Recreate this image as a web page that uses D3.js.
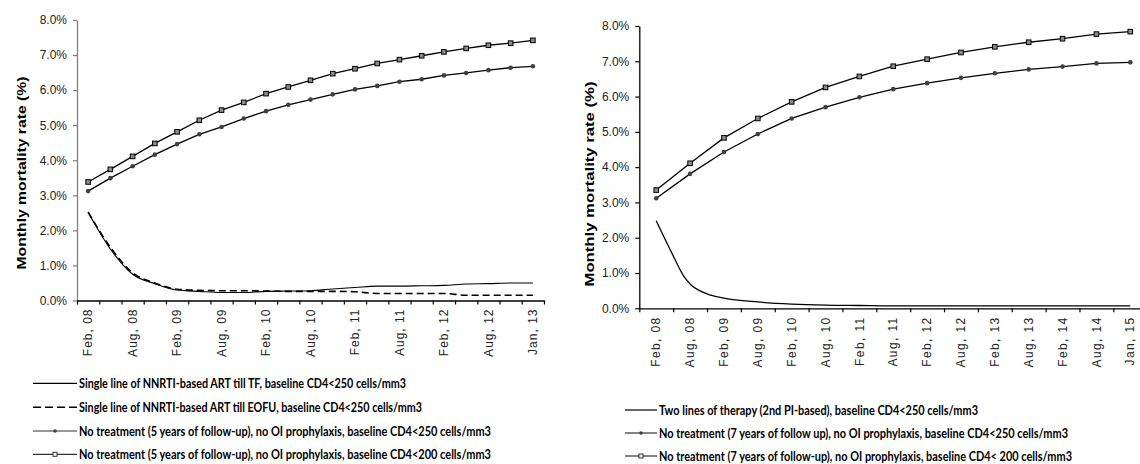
<!DOCTYPE html>
<html><head><meta charset="utf-8">
<script src="https://cdn.jsdelivr.net/npm/d3@7"></script>
<style>body{margin:0;background:#fff}svg{display:block}</style>
</head><body>
<svg id="c" width="1140" height="464"></svg>
<script>
// ---------- DATA ----------
const leftCategories = ["Feb, 08","May, 08","Aug, 08","Nov, 08","Feb, 09","May, 09","Aug, 09","Nov, 09",
  "Feb, 10","May, 10","Aug, 10","Nov, 10","Feb, 11","May, 11","Aug, 11","Nov, 11",
  "Feb, 12","May, 12","Aug, 12","Nov, 12","Jan, 13"];
const leftTickLabels = ["Feb, 08","Aug, 08","Feb, 09","Aug, 09","Feb, 10","Aug, 10","Feb, 11","Aug, 11","Feb, 12","Aug, 12","Jan, 13"];
const leftArtTF   = [2.52,1.47,0.75,0.48,0.30,0.26,0.23,0.23,0.26,0.27,0.28,0.33,0.37,0.41,0.41,0.42,0.43,0.47,0.48,0.50,0.50];
const leftArtEOFU = [2.52,1.52,0.79,0.50,0.32,0.29,0.28,0.28,0.27,0.26,0.26,0.26,0.25,0.20,0.20,0.20,0.20,0.15,0.15,0.15,0.15];
const leftNoTx250 = [3.12,3.49,3.83,4.16,4.46,4.74,4.95,5.19,5.40,5.58,5.73,5.88,6.02,6.12,6.24,6.31,6.42,6.49,6.57,6.64,6.68];
const leftNoTx200 = [3.38,3.74,4.11,4.48,4.81,5.14,5.43,5.65,5.90,6.09,6.28,6.47,6.61,6.76,6.87,6.98,7.09,7.19,7.28,7.34,7.42];
const leftLegend = [
  "Single line of NNRTI-based ART till TF, baseline CD4<250 cells/mm3",
  "Single line of NNRTI-based ART till EOFU, baseline CD4<250 cells/mm3",
  "No treatment (5 years of follow-up), no OI prophylaxis, baseline CD4<250 cells/mm3",
  "No treatment (5 years of follow-up), no OI prophylaxis, baseline CD4<200 cells/mm3"];

const rightCategories = ["Feb, 08","Aug, 08","Feb, 09","Aug, 09","Feb, 10","Aug, 10","Feb, 11","Aug, 11",
  "Feb, 12","Aug, 12","Feb, 13","Aug, 13","Feb, 14","Aug, 14","Jan, 15"];
const rightArtMonths = [0,3,5,6,9,12,18,24,30,36,42,48,54,60,66,72,78,84];
const rightArtTwoLines = [2.48,1.49,0.88,0.69,0.41,0.29,0.18,0.12,0.09,0.08,0.07,0.07,0.07,0.07,0.07,0.07,0.07,0.07];
const rightNoTx250 = [3.12,3.81,4.43,4.94,5.38,5.70,5.98,6.21,6.38,6.53,6.66,6.77,6.85,6.94,6.97];
const rightNoTx200 = [3.35,4.11,4.83,5.38,5.85,6.26,6.57,6.86,7.06,7.25,7.41,7.54,7.64,7.77,7.84];
const rightLegend = [
  "Two lines of therapy (2nd PI-based), baseline CD4<250 cells/mm3",
  "No treatment (7 years of follow up), no OI prophylaxis, baseline CD4<250 cells/mm3",
  "No treatment (7 years of follow-up), no OI prophylaxis, baseline CD4< 200 cells/mm3"];
const yTicks = [0,1,2,3,4,5,6,7,8];
const yTitle = "Monthly mortality rate (%)";

// ---------- DRAW ----------
const svg = d3.select("#c");
const TICKFONT = "'Liberation Sans', Arial, sans-serif";
const LEGFONT = "Lato, 'Noto Sans', sans-serif";

function panel(o){
  const g = svg.append("g");
  const n = o.cats.length;
  const x = d3.scaleBand().domain(o.cats).range([o.x0, o.x1]).padding(0);
  const xb = d3.scaleLinear().domain([0, n]).range([o.x0, o.x1]);
  const y = d3.scaleLinear().domain([0, 8]).range([o.yb, o.yt]);
  const cx = c => x(c) + x.bandwidth()/2;

  const ya = g.append("g").attr("transform", `translate(${o.x0},0)`)
    .call(d3.axisLeft(y).tickValues(yTicks).tickFormat(d => d.toFixed(1) + "%").tickSize(4).tickPadding(6).tickSizeOuter(0));
  ya.select(".domain").attr("stroke", o.yAxisColor).attr("stroke-width", 1.3);
  ya.selectAll(".tick line").attr("stroke", o.yAxisColor).attr("stroke-width", 1.2);
  ya.selectAll("text").attr("font-family", TICKFONT).attr("font-size", 12).attr("fill", "#222");

  const xa = g.append("g").attr("transform", `translate(0,${o.yb})`)
    .call(d3.axisBottom(xb).tickValues(d3.range(0, n + 1)).tickFormat("").tickSize(4).tickSizeOuter(0));
  xa.select(".domain").attr("stroke", "#000").attr("stroke-width", 1.3);
  xa.selectAll(".tick line").attr("stroke", "#000").attr("stroke-width", 1.2);

  g.append("g").selectAll("text").data(o.labelCats).join("text")
    .attr("transform", (d) => `translate(${cx(d.cat)},${o.yb + o.labOff}) rotate(-90)`)
    .attr("text-anchor", "end").attr("dy", "0.35em")
    .attr("font-family", TICKFONT).attr("font-size", 12).attr("fill", "#222")
    .attr("letter-spacing", o.ls)
    .text(d => d.label);

  g.append("text")
    .attr("transform", `translate(${o.titleX},${o.titleY}) rotate(-90)`)
    .attr("text-anchor", "middle").attr("dy", "0.35em")
    .attr("font-family", TICKFONT).attr("font-weight", "bold").attr("font-size", 13.5)
    .attr("textLength", o.titleLen).attr("lengthAdjust", "spacingAndGlyphs")
    .text(yTitle);

  const plot = g.append("g");
  o.series.forEach(s => {
    const pts = s.values.map((v, i) => [s.xs ? s.xs(i) : cx(o.cats[i]), y(v)]);
    plot.append("path").attr("d", d3.line().curve(s.curve || d3.curveLinear)(pts))
      .attr("fill", "none").attr("stroke", "#000").attr("stroke-width", s.w || 1.3)
      .attr("stroke-dasharray", s.dash || null);
    if (s.marker === "circle") {
      plot.selectAll(null).data(pts).join("circle").attr("cx", d => d[0]).attr("cy", d => d[1])
        .attr("r", 2.3).attr("fill", "#404040");
    } else if (s.marker === "square") {
      plot.selectAll(null).data(pts).join("rect").attr("x", d => d[0] - 2.3).attr("y", d => d[1] - 2.3)
        .attr("width", 4.6).attr("height", 4.6).attr("fill", "#8c8c8c").attr("stroke", "#000").attr("stroke-width", 1);
    }
  });

  const lg = g.append("g");
  o.legend.forEach((t, i) => {
    const yy = o.legY[i];
    const s = o.legStyle[i];
    lg.append("line").attr("x1", o.legX0).attr("x2", o.legX1).attr("y1", yy).attr("y2", yy)
      .attr("stroke", s.marker ? "#333" : "#000").attr("stroke-width", s.dash ? 1.6 : 1.2).attr("stroke-dasharray", s.dash || null);
    const mx = (o.legX0 + o.legX1) / 2;
    if (s.marker === "circle") lg.append("circle").attr("cx", mx).attr("cy", yy).attr("r", 1.8).attr("fill", "#404040");
    if (s.marker === "square") lg.append("rect").attr("x", mx - 2).attr("y", yy - 2).attr("width", 4).attr("height", 4)
      .attr("fill", "#fff").attr("stroke", "#333").attr("stroke-width", 1);
    lg.append("text").attr("x", o.legTX).attr("y", yy).attr("dy", "0.36em")
      .attr("font-family", LEGFONT).attr("font-weight", "bold").attr("font-size", 12.5).attr("fill", "#000")
      .attr("textLength", o.legLen[i]).attr("lengthAdjust", "spacingAndGlyphs")
      .text(t);
  });
}

panel({
  cats: leftCategories, x0: 77, x1: 544, yb: 300.5, yt: 20,
  yAxisColor: "#808080",
  labelCats: leftCategories.filter((c, i) => i % 2 === 0).map((c, k) => ({cat: c, label: leftTickLabels[k]})),
  labOff: 8, ls: 1.0,
  titleX: 21, titleY: 173, titleLen: 193,
  series: [
    {values: leftArtEOFU, dash: "7,4", curve: d3.curveMonotoneX, w: 1.6},
    {values: leftArtTF, curve: d3.curveMonotoneX, w: 1.1},
    {values: leftNoTx250, marker: "circle"},
    {values: leftNoTx200, marker: "square"}
  ],
  legend: leftLegend, legY: [383.3, 407.3, 431, 454.3], legX0: 33, legX1: 77, legTX: 79,
  legLen: [327, 343, 412, 412],
  legStyle: [{}, {dash: "8,4"}, {marker: "circle"}, {marker: "square"}]
});

const rCats = rightCategories;
const rx0 = 639.3, rx1 = 639.3 + 15 * 33.86;
const rBand = d3.scaleBand().domain(rCats).range([rx0, rx1]);
const rMonth = d3.scaleLinear().domain([0, 84])
  .range([rBand(rCats[0]) + rBand.bandwidth()/2, rBand(rCats[14]) + rBand.bandwidth()/2]);
panel({
  cats: rCats, x0: rx0, x1: rx1, yb: 308.3, yt: 26,
  yAxisColor: "#000",
  labelCats: rCats.map(c => ({cat: c, label: c})),
  labOff: 8, ls: 1.4,
  titleX: 589, titleY: 184, titleLen: 205,
  series: [
    {values: rightArtTwoLines, xs: i => rMonth(rightArtMonths[i]), curve: d3.curveMonotoneX, w: 1.3},
    {values: rightNoTx250, marker: "circle"},
    {values: rightNoTx200, marker: "square"}
  ],
  legend: rightLegend, legY: [410, 433, 456], legX0: 625, legX1: 657, legTX: 659,
  legLen: [319, 409, 413],
  legStyle: [{}, {marker: "circle"}, {marker: "square"}]
});
</script>
</body></html>
